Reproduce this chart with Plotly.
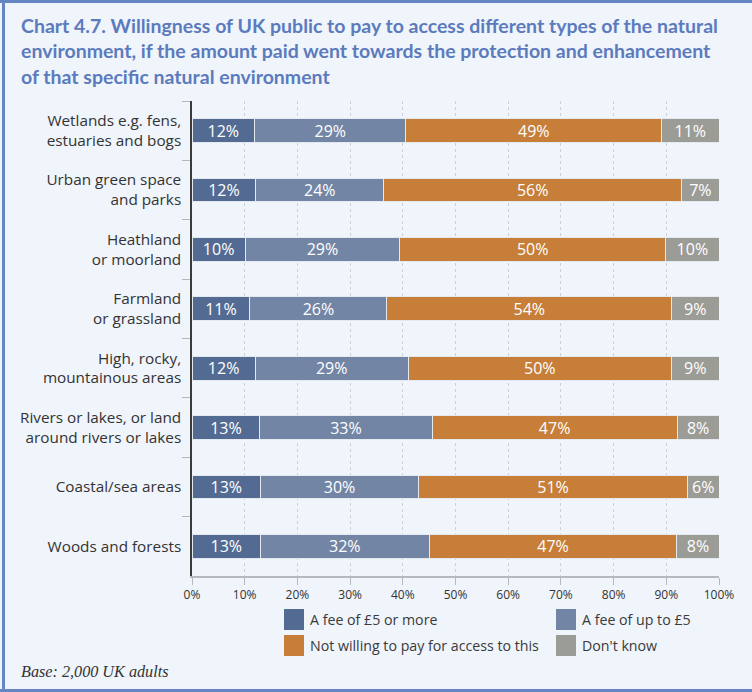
import plotly.graph_objects as go

categories = [
    "Wetlands e.g. fens,<br>estuaries and bogs",
    "Urban green space<br>and parks",
    "Heathland<br>or moorland",
    "Farmland<br>or grassland",
    "High, rocky,<br>mountainous areas",
    "Rivers or lakes, or land<br>around rivers or lakes",
    "Coastal/sea areas",
    "Woods and forests",
]
series_names = [
    "A fee of £5 or more",
    "A fee of up to £5",
    "Not willing to pay for access to this",
    "Don't know",
]
fee_5_or_more = [12, 12, 10, 11, 12, 13, 13, 13]
fee_up_to_5 = [29, 24, 29, 26, 29, 33, 30, 32]
not_willing = [49, 56, 50, 54, 50, 47, 51, 47]
dont_know = [11, 7, 10, 9, 9, 8, 6, 8]
x_ticks = [0, 10, 20, 30, 40, 50, 60, 70, 80, 90, 100]
x_tick_labels = [f"{v}%" for v in x_ticks]

colors = ["#536b92", "#7385a5", "#c67e38", "#9c9c97"]
series = [fee_5_or_more, fee_up_to_5, not_willing, dont_know]

W, H = 752, 692
ML, MR, MT, MB = 192, 33, 101, 116
PW = W - ML - MR
PH = H - MT - MB

def px_x(p):
    return (p - ML) / PW

def px_y(p):
    return (H - MB - p) / PH

fig = go.Figure()
for name, vals, col in zip(series_names, series, colors):
    fig.add_trace(go.Bar(
        y=categories, x=vals, name=name, orientation="h",
        marker=dict(color=col, line=dict(color="#e4e8ef", width=1)),
        text=[f"{v}%" for v in vals], textposition="inside", textangle=0,
        insidetextanchor="middle", constraintext="none",
        textfont=dict(color="white", size=16, family="Open Sans"),
        showlegend=False, hoverinfo="skip",
    ))

shapes = []
annotations = []

# custom legend
legend_items = [
    (series_names[0], colors[0], 284, 609),
    (series_names[1], colors[1], 556, 609),
    (series_names[2], colors[2], 284, 635),
    (series_names[3], colors[3], 556, 635),
]
for name, col, x0, y0 in legend_items:
    shapes.append(dict(type="rect", xref="paper", yref="paper",
                       x0=px_x(x0), x1=px_x(x0 + 20), y0=px_y(y0), y1=px_y(y0 + 21),
                       fillcolor=col, line=dict(width=0)))
    annotations.append(dict(text=name, xref="paper", yref="paper",
                            x=px_x(x0 + 24), y=px_y(y0 + 10.5), xanchor="left", yanchor="middle",
                            showarrow=False, font=dict(size=14.2, color="#3a3a3a", family="Open Sans")))

# frame lines
border = "#6586c3"
shapes.append(dict(type="line", xref="paper", yref="paper", x0=px_x(0), x1=px_x(W), y0=px_y(1.5), y1=px_y(1.5),
                   line=dict(color=border, width=3)))
shapes.append(dict(type="line", xref="paper", yref="paper", x0=px_x(0), x1=px_x(W), y0=px_y(690.5), y1=px_y(690.5),
                   line=dict(color=border, width=3)))
shapes.append(dict(type="line", xref="paper", yref="paper", x0=px_x(3.5), x1=px_x(3.5), y0=px_y(0), y1=px_y(H),
                   line=dict(color=border, width=3)))

annotations.append(dict(
    text="Chart 4.7. Willingness of UK public to pay to access different types of the natural<br>"
         "environment, if the amount paid went towards the protection and enhancement<br>"
         "of that specific natural environment",
    xref="paper", yref="paper", x=px_x(19), y=px_y(12), xanchor="left", yanchor="top",
    align="left", showarrow=False,
    font=dict(size=19.5, color="#5b7bbd", family="Lato", weight="bold")))
annotations.append(dict(
    text="<i>Base: 2,000 UK adults</i>", xref="paper", yref="paper",
    x=px_x(19), y=px_y(672), xanchor="left", yanchor="middle", showarrow=False,
    font=dict(size=16.2, color="#333333", family="Liberation Serif")))

fig.update_layout(
    width=W, height=H,
    margin=dict(l=ML, r=MR, t=MT, b=MB, pad=0),
    barmode="stack", barnorm="percent", bargap=0.6,
    paper_bgcolor="#f0f4fb", plot_bgcolor="#f0f4fb",
    shapes=shapes, annotations=annotations,
    uniformtext=dict(minsize=16, mode="show"),
    font=dict(family="Open Sans", color="#333333"),
    xaxis=dict(range=[0, 100], tickvals=x_ticks, ticktext=x_tick_labels,
               showgrid=True, gridcolor="#cdd0d6", griddash="3px,3px", gridwidth=1,
               zeroline=False, showline=True, linecolor="#b5b8bd", linewidth=1.5,
               ticks="outside", ticklen=7, tickcolor="#b5b8bd",
               tickfont=dict(size=12, color="#333333")),
    yaxis=dict(autorange="reversed", showline=True, linecolor="#3a3a3a", linewidth=1.5,
               ticks="outside", ticklen=8, tickcolor="#b5b8bd", tickson="boundaries",
               ticklabelstandoff=6,
               tickfont=dict(size=15.3, color="#333333"), showgrid=False),
)

fig.write_html("out.html")
